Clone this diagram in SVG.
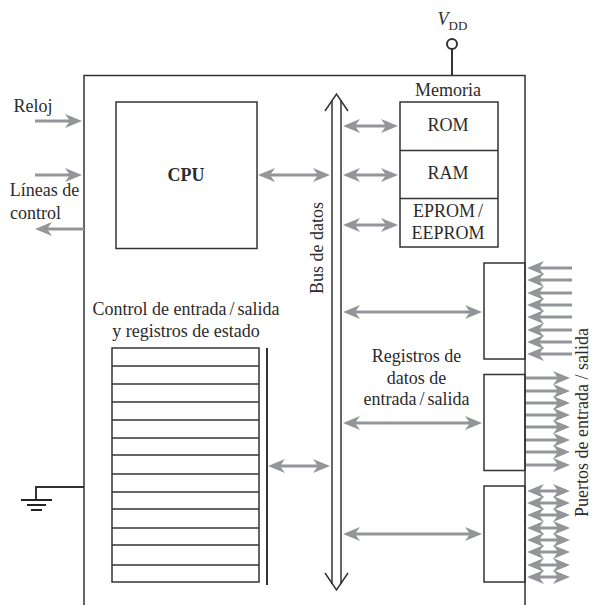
<svg xmlns="http://www.w3.org/2000/svg" width="594" height="605" viewBox="0 0 594 605">
<style>
text{font-family:"Liberation Serif","Times New Roman",serif;font-size:18px;fill:#2b2b2b;text-anchor:middle}
.b{fill:none;stroke:#333;stroke-width:1.5}
.a{fill:none;stroke:#939598;stroke-width:3;marker-end:url(#h)}
.d{fill:none;stroke:#939598;stroke-width:3;marker-start:url(#h);marker-end:url(#h)}
</style>
<defs>
<marker id="h" markerUnits="userSpaceOnUse" markerWidth="20" markerHeight="16" viewBox="0 0 20 16" refX="10" refY="8" orient="auto-start-reverse">
<path d="M0 1L17 8L0 15L5 8Z" fill="#939598"/>
</marker>
</defs>
<g id="chip"><path class="b" d="M84 605V75.500H525V605"/></g>
<g id="vdd">
<path class="b" d="M452 49V75" style="stroke-width:2"/>
<circle class="b" cx="452" cy="44" r="5" style="stroke-width:2"/>
<text x="443" y="25" style="font-style:italic">V</text>
<text x="458" y="30" style="font-size:13px">DD</text>
</g>
<g id="memoria">
<text x="448" y="96">Memoria</text>
<rect class="b" x="400" y="102" width="98" height="145"/>
<path class="b" d="M400 150.500H498M400 198.500H498"/>
<text x="448" y="131">ROM</text>
<text x="448" y="179">RAM</text>
<text x="448" y="217">EPROM<tspan dx="3">/</tspan></text>
<text x="448" y="239">EEPROM</text>
</g>
<g id="cpu">
<rect class="b" x="116" y="102" width="141" height="146.500"/>
<text x="186" y="181" style="font-weight:bold">CPU</text>
</g>
<g id="bus">
<path class="b" d="M332 100V584"/>
<path class="b" d="M341 100V584" style="stroke:#666;stroke-width:2"/>
<path class="b" d="M325 111L336.500 94L348 111M325 573L336.500 590L348 573"/>
<text transform="translate(323 248) rotate(-90)">Bus de datos</text>
</g>
<g id="registros-estado">
<text x="186" y="315">Control de entrada<tspan dx="3">/</tspan><tspan dx="3">salida</tspan></text>
<text x="186" y="337">y registros de estado</text>
<rect class="b" x="112" y="348" width="147" height="234"/>
<path class="b" d="M112 366H259M112 384H259M112 402H259M112 420H259M112 438H259M112 455H259M112 474H259M112 492H259M112 509H259M112 528H259M112 545H259M112 565H259"/>
<path class="b" d="M267 348V585" style="stroke-width:2"/>
</g>
<g id="puertos">
<rect class="b" x="484" y="263" width="41" height="96"/>
<rect class="b" x="484" y="374.500" width="41" height="96"/>
<rect class="b" x="484" y="486" width="41" height="96"/>
<text x="416.500" y="362">Registros de</text>
<text x="416.500" y="384">datos de</text>
<text x="416.500" y="405">entrada<tspan dx="3">/</tspan><tspan dx="3">salida</tspan></text>
<text transform="translate(588 422.500) rotate(-90)">Puertos de entrada<tspan dx="4.500">/</tspan><tspan dx="4.500">salida</tspan></text>
</g>
<g id="tierra">
<path class="b" d="M84 487H36V500" style="stroke-width:2"/>
<path d="M21 500H52M27 505H46M31 510H42" fill="none" stroke="#222" stroke-width="2"/>
</g>
<g id="externos">
<text x="33" y="112">Reloj</text>
<text x="44.500" y="196">Líneas de</text>
<text x="35.500" y="219">control</text>
</g>
<g id="connectors">
<path class="a" d="M35 121H75"/>
<path class="a" d="M35 175H75"/>
<path class="a" d="M84 229H42"/>
<path class="d" d="M265 175H323"/>
<path class="d" d="M350 126H391"/>
<path class="d" d="M350 175H391"/>
<path class="d" d="M350 225H391"/>
<path class="d" d="M350 312H475"/>
<path class="d" d="M350 423H475"/>
<path class="d" d="M350 534H475"/>
<path class="d" d="M275 466H323"/>
<path class="a" d="M572 268H534"/><path class="a" d="M572 280H534"/><path class="a" d="M572 293H534"/><path class="a" d="M572 305H534"/><path class="a" d="M572 317H534"/><path class="a" d="M572 330H534"/><path class="a" d="M572 342H534"/><path class="a" d="M572 354H534"/>
<path class="a" d="M526 378H563"/><path class="a" d="M526 391H563"/><path class="a" d="M526 403H563"/><path class="a" d="M526 415H563"/><path class="a" d="M526 427H563"/><path class="a" d="M526 440H563"/><path class="a" d="M526 452H563"/><path class="a" d="M526 465H563"/>
<path class="d" d="M534 491H563"/><path class="d" d="M534 503H563"/><path class="d" d="M534 515H563"/><path class="d" d="M534 528H563"/><path class="d" d="M534 540H563"/><path class="d" d="M534 552H563"/><path class="d" d="M534 565H563"/><path class="d" d="M534 577H563"/>
</g>
</svg>
